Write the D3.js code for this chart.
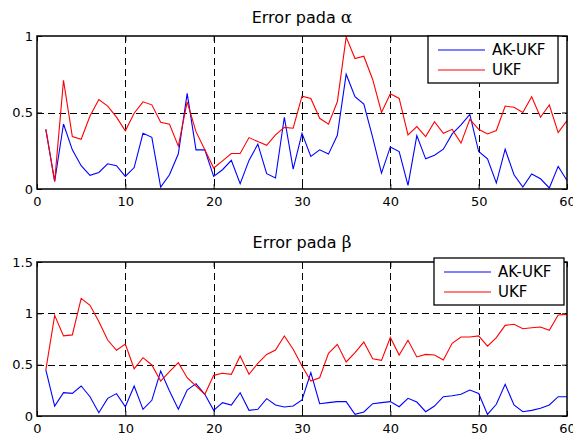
<!DOCTYPE html>
<html>
<head>
  <meta charset="UTF-8">
  <style>
    body { margin: 0; background: #fff; }
    svg text { font-family: "DejaVu Sans", sans-serif; fill: #000; }
  </style>
</head>
<body>
  <svg id="chart"></svg>
  <script src="https://d3js.org/d3.v7.min.js"></script>
  <script>
    let width = 573, height = 435;

    // iteration 1..60
    var alphaAk = [0.39,0.05,0.425,0.256,0.152,0.089,0.108,0.165,0.152,0.082,0.14,0.364,0.338,0.013,0.093,0.23,0.625,0.256,0.256,0.082,
                   0.126,0.187,0.035,0.187,0.293,0.1,0.072,0.469,0.13,0.364,0.213,0.256,0.228,0.351,0.75,0.603,0.555,0.338,0.104,0.275,
                   0.245,0.024,0.349,0.197,0.221,0.26,0.36,0.419,0.488,0.245,0.197,0.039,0.26,0.093,0.013,0.098,0.067,0.007,0.148,0.056];
    var alphaUkf = [0.39,0.05,0.71,0.343,0.325,0.477,0.585,0.542,0.47,0.38,0.495,0.57,0.55,0.436,0.423,0.28,0.57,0.375,0.256,0.137,
                    0.184,0.232,0.232,0.336,0.31,0.286,0.354,0.403,0.397,0.607,0.592,0.462,0.423,0.57,0.993,0.853,0.868,0.716,0.5,0.622,
                    0.592,0.354,0.408,0.343,0.44,0.364,0.39,0.3,0.455,0.39,0.36,0.382,0.542,0.534,0.5,0.603,0.469,0.549,0.369,0.447];
    var betaAk = [0.45,0.097,0.227,0.22,0.292,0.188,0.032,0.172,0.218,0.09,0.292,0.065,0.153,0.438,0.243,0.065,0.253,0.315,0.211,0.055,
                  0.13,0.107,0.227,0.055,0.065,0.169,0.107,0.088,0.097,0.156,0.422,0.12,0.13,0.14,0.14,0.016,0.039,0.12,0.13,0.14,
                  0.09,0.172,0.136,0.042,0.097,0.188,0.198,0.211,0.253,0.22,0.016,0.114,0.308,0.107,0.042,0.055,0.075,0.107,0.188,0.188];
    var betaUkf = [0.45,0.98,0.78,0.79,1.146,1.078,0.92,0.74,0.64,0.70,0.46,0.568,0.497,0.34,0.432,0.52,0.373,0.292,0.211,0.396,
                   0.416,0.406,0.584,0.406,0.513,0.6,0.643,0.78,0.65,0.487,0.34,0.373,0.61,0.698,0.526,0.617,0.72,0.558,0.542,0.765,
                   0.594,0.737,0.575,0.6,0.594,0.545,0.708,0.77,0.77,0.78,0.68,0.763,0.883,0.893,0.85,0.86,0.867,0.834,0.984,0.99];

    var xTicks = [0, 10, 20, 30, 40, 50, 60];
    var alphaYTicks = [0, 0.5, 1];
    var betaYTicks = [0, 0.5, 1, 1.5];
    var seriesNames = ["AK-UKF", "UKF"];
    var seriesColors = ["#0000ff", "#ff0000"];

    let svg = d3.select("#chart")
      .attr("width", width)
      .attr("height", height);

    let x = d3.scaleLinear().domain([0, 60]).range([37, 567]);

    function drawPanel(opts) {
      let y = d3.scaleLinear().domain(opts.yDomain).range([opts.bottom, opts.top]);
      let g = svg.append("g");

      // title
      let title = g.append("text")
        .attr("x", (x.range()[0] + x.range()[1]) / 2)
        .attr("y", opts.titleY)
        .attr("text-anchor", "middle")
        .style("font-size", "16px");
      title.append("tspan").text(opts.title + " ");
      title.append("tspan").style("font-family", "DejaVu Serif").style("font-size", "17px").text(opts.greek);

      // dashed grid
      g.selectAll(".vgrid")
        .data(xTicks.slice(1, -1))
        .enter()
        .append("line")
        .attr("x1", d => Math.round(x(d)) + 0.5)
        .attr("x2", d => Math.round(x(d)) + 0.5)
        .attr("y1", opts.top)
        .attr("y2", opts.bottom)
        .attr("stroke", "#000")
        .attr("stroke-dasharray", "7,4");
      g.selectAll(".hgrid")
        .data(opts.yTicks.slice(1, -1))
        .enter()
        .append("line")
        .attr("x1", x.range()[0])
        .attr("x2", x.range()[1])
        .attr("y1", d => Math.round(y(d)) + 0.5)
        .attr("y2", d => Math.round(y(d)) + 0.5)
        .attr("stroke", "#000")
        .attr("stroke-dasharray", "7,4");

      // axes with inward ticks
      let xAxis = g.append("g")
        .attr("transform", "translate(0," + opts.bottom + ")")
        .call(d3.axisBottom(x).tickValues(xTicks).tickFormat(d3.format("d")).tickSize(-5).tickPadding(8));
      let yAxis = g.append("g")
        .attr("transform", "translate(" + x.range()[0] + ",0)")
        .call(d3.axisLeft(y).tickValues(opts.yTicks).tickFormat(d => String(d)).tickSize(-5).tickPadding(4));
      g.append("g")
        .attr("transform", "translate(0," + opts.top + ")")
        .call(d3.axisTop(x).tickValues(xTicks).tickFormat("").tickSize(-5));
      g.append("g")
        .attr("transform", "translate(" + x.range()[1] + ",0)")
        .call(d3.axisRight(y).tickValues(opts.yTicks).tickFormat("").tickSize(-5));
      g.selectAll(".domain").remove();
      g.selectAll(".tick line").attr("stroke", "#000");
      xAxis.selectAll("text").style("font-size", "13px").attr("fill", "#000");
      yAxis.selectAll("text").style("font-size", "13px").attr("fill", "#000");

      // lines
      let line = d3.line()
        .x((d, i) => x(i + 1))
        .y(d => y(d));
      opts.series.forEach((s, k) => {
        g.append("path")
          .datum(s)
          .attr("d", line)
          .attr("fill", "none")
          .attr("stroke", seriesColors[k])
          .attr("stroke-width", 1.1);
      });

      // box
      g.append("rect")
        .attr("x", x.range()[0])
        .attr("y", opts.top)
        .attr("width", x.range()[1] - x.range()[0])
        .attr("height", opts.bottom - opts.top)
        .attr("fill", "none")
        .attr("stroke", "#000")
        .attr("stroke-width", 1.5);

      // legend
      let lg = g.append("g").attr("transform", "translate(" + opts.legend[0] + "," + opts.legend[1] + ")");
      lg.append("rect")
        .attr("width", 130)
        .attr("height", 47)
        .attr("fill", "#fff")
        .attr("stroke", "#000")
        .attr("stroke-width", 1.3);
      seriesNames.forEach((name, k) => {
        lg.append("line")
          .attr("x1", 10).attr("x2", 57)
          .attr("y1", 14 + k * 20).attr("y2", 14 + k * 20)
          .attr("stroke", seriesColors[k])
          .attr("stroke-width", 1.1);
        lg.append("text")
          .attr("x", 64)
          .attr("y", 14 + k * 20)
          .attr("dy", "0.36em")
          .style("font-size", "15px")
          .text(name);
      });
    }

    drawPanel({
      title: "Error pada", greek: "\u03b1", titleY: 23,
      top: 36, bottom: 189, yDomain: [0, 1], yTicks: alphaYTicks,
      series: [alphaAk, alphaUkf], legend: [428, 36]
    });
    drawPanel({
      title: "Error pada", greek: "\u03b2", titleY: 248,
      top: 262, bottom: 416, yDomain: [0, 1.5], yTicks: betaYTicks,
      series: [betaAk, betaUkf], legend: [434, 258]
    });
  </script>
</body>
</html>
